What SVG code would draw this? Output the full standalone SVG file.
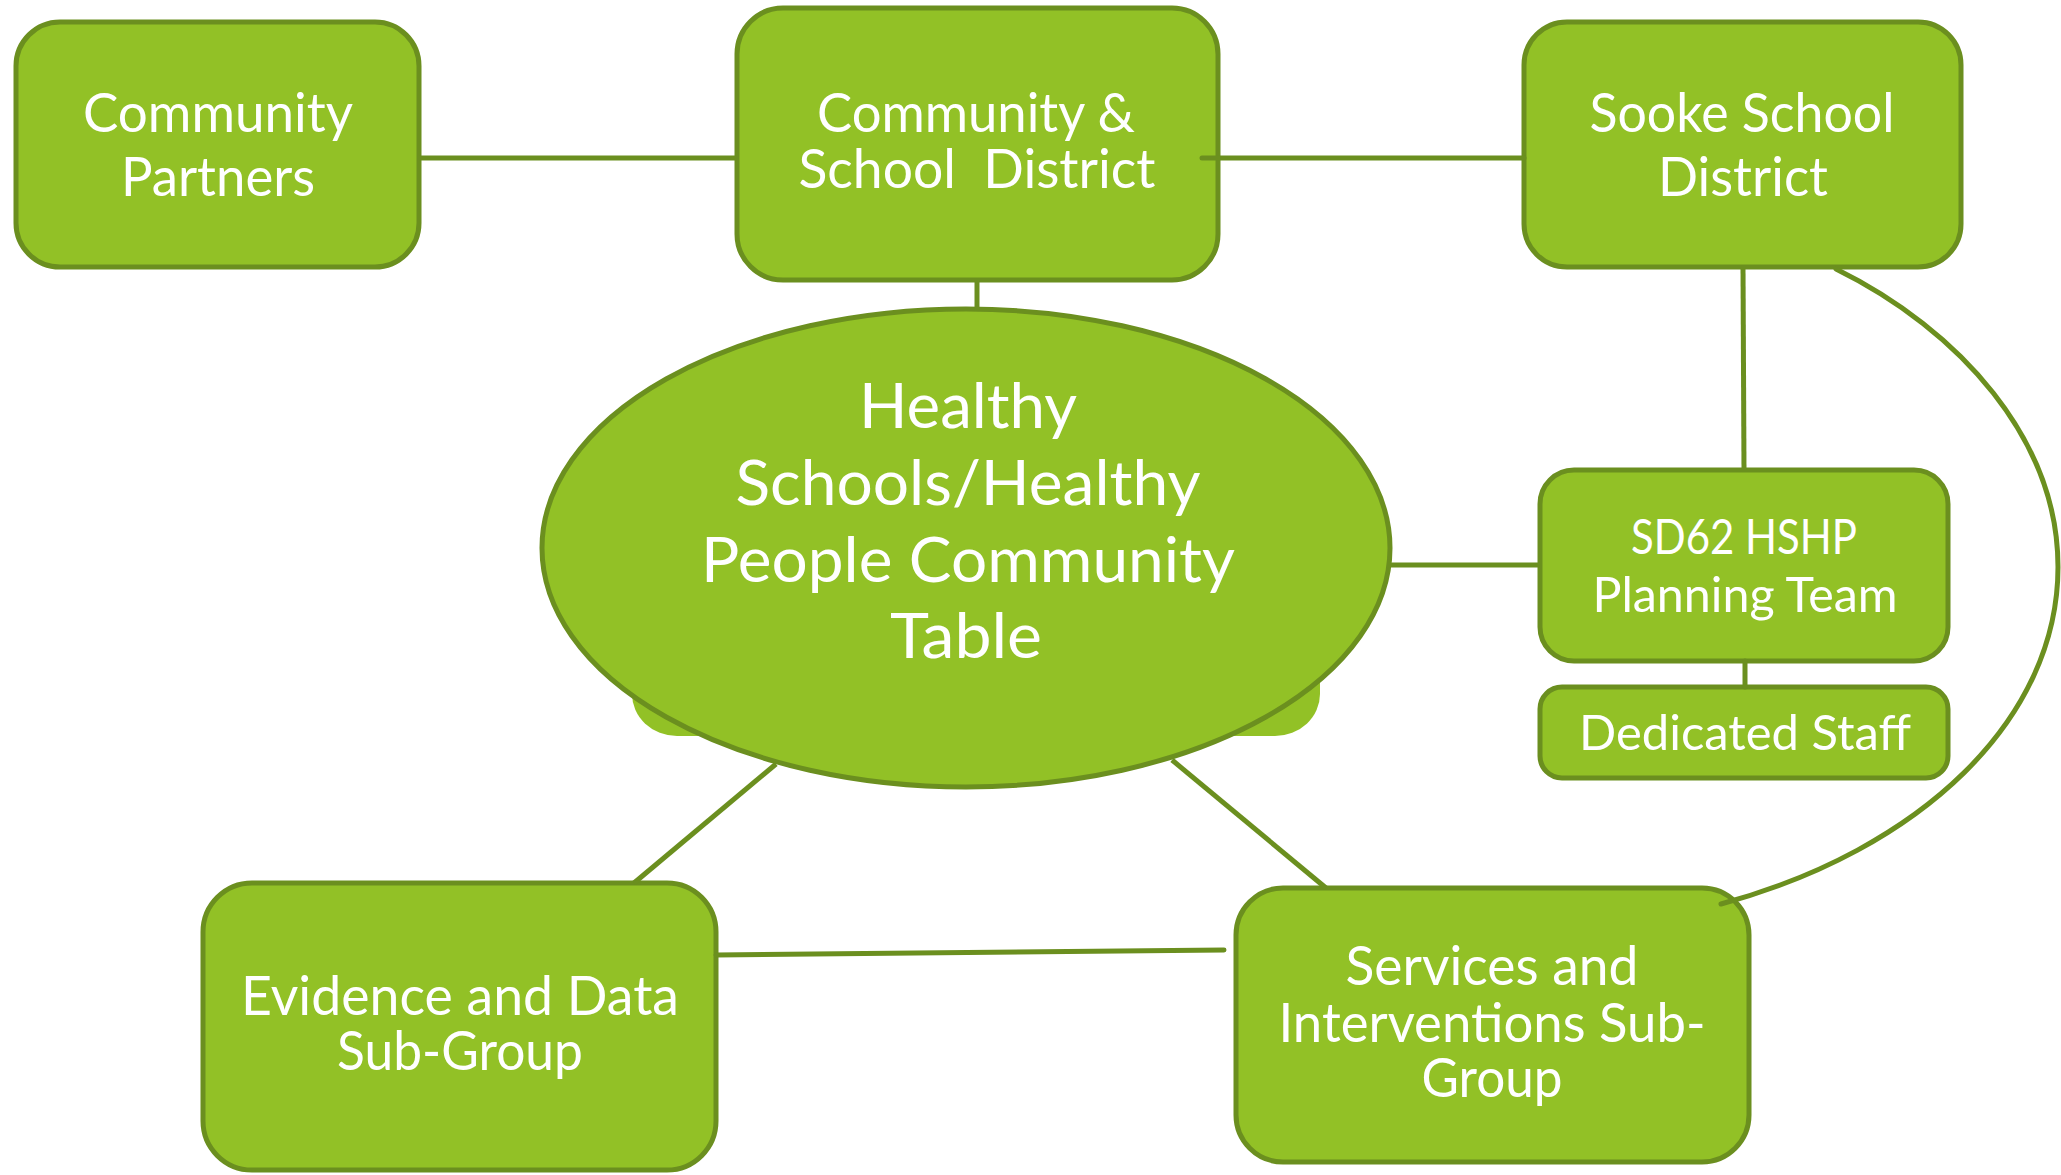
<svg xmlns="http://www.w3.org/2000/svg" width="2061" height="1175" viewBox="0 0 2061 1175">
  <style>
    .box { fill: #92c126; stroke: #6b8f1f; stroke-width: 5; }
    .plate { fill: #92c126; stroke: none; }
    .link { fill: none; stroke: #6b8f1f; stroke-width: 5; }
    .round { stroke-linecap: round; }
    .lbl { fill: #ffffff; font-family: Lato, "Liberation Sans", sans-serif; text-anchor: middle; }
    .f54 { font-size: 54px; }
    .f62 { font-size: 62px; }
    .f48 { font-size: 48px; }
  </style>
  <rect width="2061" height="1175" fill="#ffffff"/>

  <!-- Nodes -->
  <g id="community-partners">
    <rect class="box" x="16" y="22" width="403" height="245" rx="44" ry="44"/>
    <text class="lbl f54" x="218" y="132" textLength="270" lengthAdjust="spacingAndGlyphs">Community</text>
    <text class="lbl f54" x="218" y="196" textLength="194" lengthAdjust="spacingAndGlyphs">Partners</text>
  </g>

  <g id="community-school-district">
    <rect class="box" x="737" y="8" width="481" height="272" rx="46" ry="46"/>
    <text class="lbl f54" x="976" y="132" textLength="318" lengthAdjust="spacingAndGlyphs">Community &amp;</text>
    <text class="lbl f54" x="977" y="188" textLength="357" lengthAdjust="spacingAndGlyphs" xml:space="preserve">School  District</text>
  </g>

  <g id="sooke-school-district">
    <rect class="box" x="1524" y="22" width="437" height="245" rx="43" ry="43"/>
    <text class="lbl f54" x="1742" y="132" textLength="305" lengthAdjust="spacingAndGlyphs">Sooke School</text>
    <text class="lbl f54" x="1743" y="196" textLength="170" lengthAdjust="spacingAndGlyphs">District</text>
  </g>

  <g id="community-table">
    <rect class="plate" x="632" y="560" width="688" height="176" rx="45" ry="42"/>
    <ellipse class="box" cx="966" cy="548" rx="424" ry="239"/>
    <text class="lbl f62" x="968" y="428" textLength="218" lengthAdjust="spacingAndGlyphs">Healthy</text>
    <text class="lbl f62" x="968" y="505" textLength="465" lengthAdjust="spacingAndGlyphs">Schools/Healthy</text>
    <text class="lbl f62" x="968" y="582" textLength="534" lengthAdjust="spacingAndGlyphs">People Community</text>
    <text class="lbl f62" x="966" y="658" textLength="152" lengthAdjust="spacingAndGlyphs">Table</text>
  </g>

  <g id="sd62-planning-team">
    <rect class="box" x="1540" y="470" width="408" height="191" rx="34" ry="34"/>
    <text class="lbl f48" x="1744" y="554" textLength="226" lengthAdjust="spacingAndGlyphs">SD62 HSHP</text>
    <text class="lbl f48" x="1745" y="612" textLength="305" lengthAdjust="spacingAndGlyphs">Planning Team</text>
  </g>

  <g id="dedicated-staff">
    <rect class="box" x="1540" y="687" width="408" height="91" rx="22" ry="22"/>
    <text class="lbl f48" x="1745" y="750" textLength="332" lengthAdjust="spacingAndGlyphs">Dedicated Staff</text>
  </g>

  <g id="evidence-data">
    <rect class="box" x="203" y="883" width="513" height="287" rx="49" ry="49"/>
    <text class="lbl f54" x="460" y="1015" textLength="438" lengthAdjust="spacingAndGlyphs">Evidence and Data</text>
    <text class="lbl f54" x="460" y="1070" textLength="246" lengthAdjust="spacingAndGlyphs">Sub-Group</text>
  </g>

  <g id="services-interventions">
    <rect class="box" x="1236" y="888" width="513" height="274" rx="47" ry="47"/>
    <text class="lbl f54" x="1492" y="985" textLength="293" lengthAdjust="spacingAndGlyphs">Services and</text>
    <text class="lbl f54" x="1492" y="1042" textLength="427" lengthAdjust="spacingAndGlyphs">Interventions Sub-</text>
    <text class="lbl f54" x="1492" y="1097" textLength="141" lengthAdjust="spacingAndGlyphs">Group</text>
  </g>

  <!-- Connectors -->
  <g id="connectors">
    <line class="link" x1="419" y1="158" x2="737" y2="158"/>
    <line class="link round" x1="1202" y1="158" x2="1524" y2="158"/>
    <line class="link" x1="977" y1="280" x2="977" y2="310"/>
    <line class="link" x1="1743" y1="267" x2="1744" y2="470"/>
    <line class="link" x1="1390" y1="565" x2="1540" y2="565"/>
    <line class="link round" x1="1745" y1="661" x2="1745" y2="687"/>
    <line class="link" x1="776" y1="764" x2="634" y2="883"/>
    <line class="link" x1="1172" y1="760" x2="1326" y2="888"/>
    <line class="link round" x1="716" y1="955" x2="1224" y2="950"/>
    <path class="link round" d="M1836,269 C1960,330 2058,440 2058,567 C2058,720 1920,850 1721,904"/>
  </g>
</svg>
